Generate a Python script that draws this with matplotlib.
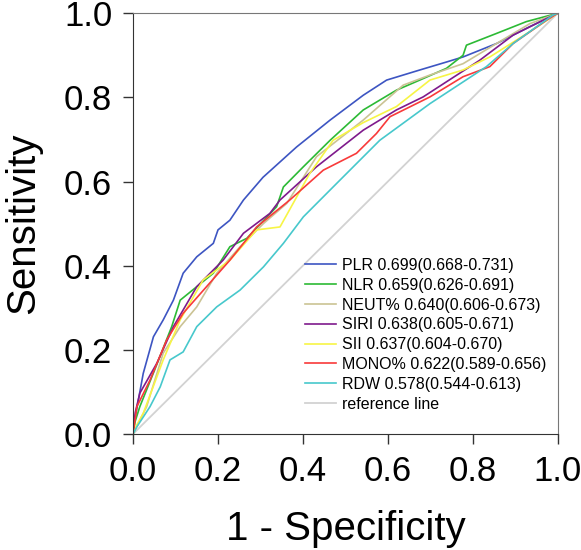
import matplotlib
matplotlib.use("Agg")
import matplotlib.pyplot as plt

plt.rcParams['font.family'] = ['Liberation Sans', 'DejaVu Sans']

# ROC curve points (1 - specificity, sensitivity)
plr_x = [0, 0.001, 0.024, 0.048, 0.071, 0.095, 0.118, 0.15, 0.189, 0.2, 0.228, 0.26, 0.306,
         0.385, 0.464, 0.542, 0.597, 0.675, 0.738, 0.777, 0.856, 0.934, 1]
plr_y = [0, 0.017, 0.144, 0.231, 0.271, 0.318, 0.382, 0.421, 0.453, 0.485, 0.508, 0.556, 0.61,
         0.682, 0.746, 0.805, 0.841, 0.865, 0.884, 0.896, 0.928, 0.968, 1]

nlr_x = [0, 0.005, 0.016, 0.05, 0.091, 0.111, 0.15, 0.189, 0.228, 0.268, 0.338, 0.354, 0.401,
         0.464, 0.542, 0.62, 0.675, 0.738, 0.777, 0.785, 0.856, 0.926, 1]
nlr_y = [0, 0.03, 0.065, 0.15, 0.255, 0.318, 0.35, 0.382, 0.445, 0.465, 0.54, 0.587, 0.635,
         0.698, 0.77, 0.817, 0.841, 0.869, 0.9, 0.924, 0.952, 0.98, 1]

neut_x = [0, 0.01, 0.032, 0.071, 0.111, 0.15, 0.197, 0.252, 0.307, 0.362, 0.432, 0.542,
          0.636, 0.699, 0.777, 0.856, 0.934, 1]
neut_y = [0, 0.02, 0.065, 0.192, 0.255, 0.302, 0.382, 0.445, 0.5, 0.548, 0.659, 0.746,
          0.829, 0.853, 0.88, 0.928, 0.975, 1]

siri_x = [0, 0.005, 0.016, 0.056, 0.095, 0.15, 0.212, 0.26, 0.322, 0.346, 0.432, 0.542,
          0.62, 0.683, 0.738, 0.816, 0.895, 0.965, 1]
siri_y = [0, 0.05, 0.097, 0.168, 0.255, 0.35, 0.413, 0.477, 0.524, 0.556, 0.635, 0.722,
          0.77, 0.801, 0.837, 0.888, 0.948, 0.983, 1]

sii_x = [0, 0.008, 0.024, 0.071, 0.111, 0.165, 0.228, 0.291, 0.346, 0.416, 0.471, 0.542,
         0.62, 0.699, 0.777, 0.84, 0.934, 1]
sii_y = [0, 0.02, 0.049, 0.176, 0.271, 0.366, 0.413, 0.485, 0.492, 0.619, 0.698, 0.74,
         0.778, 0.841, 0.865, 0.896, 0.956, 1]

mono_x = [0, 0.009, 0.04, 0.079, 0.118, 0.173, 0.228, 0.291, 0.369, 0.448, 0.526, 0.573,
          0.605, 0.699, 0.777, 0.84, 0.895, 0.973, 1]
mono_y = [0, 0.065, 0.128, 0.223, 0.287, 0.35, 0.413, 0.492, 0.556, 0.627, 0.667, 0.714,
          0.754, 0.801, 0.849, 0.873, 0.928, 0.983, 1]

rdw_x = [0, 0.009, 0.04, 0.064, 0.087, 0.118, 0.15, 0.197, 0.252, 0.307, 0.354, 0.401,
         0.479, 0.581, 0.699, 0.832, 0.895, 0.988, 1]
rdw_y = [0, 0.017, 0.065, 0.112, 0.176, 0.195, 0.255, 0.302, 0.342, 0.397, 0.453, 0.516,
         0.595, 0.698, 0.785, 0.873, 0.928, 0.995, 1]

labels = ['PLR 0.699(0.668-0.731)', 'NLR 0.659(0.626-0.691)', 'NEUT% 0.640(0.606-0.673)',
          'SIRI 0.638(0.605-0.671)', 'SII 0.637(0.604-0.670)', 'MONO% 0.622(0.589-0.656)',
          'RDW 0.578(0.544-0.613)']
colors = ['#3d55c2', '#2cba35', '#cbc394', '#7f1a8c', '#f7f545', '#f83a3a', '#47c8cc']

fig = plt.figure(figsize=(5.81, 5.5), dpi=100)
ax = fig.add_axes([0.229, 0.211, 0.731, 0.765])

curves = [(plr_x, plr_y), (nlr_x, nlr_y), (neut_x, neut_y), (siri_x, siri_y),
          (sii_x, sii_y), (mono_x, mono_y), (rdw_x, rdw_y)]
for (xs, ys), lab, c in zip(curves, labels, colors):
    ax.plot(xs, ys, color=c, lw=1.2, label=lab)
ax.plot([0, 1], [0, 1], color='#d2d2d2', lw=1.3, label='reference line', zorder=0)

ax.set_xlim(0, 1)
ax.set_ylim(0, 1)
ticks = [0.0, 0.2, 0.4, 0.6, 0.8, 1.0]
ax.set_xticks(ticks)
ax.set_yticks(ticks)
ax.set_xticklabels(['%.1f' % t for t in ticks])
ax.set_yticklabels(['%.1f' % t for t in ticks])
ax.tick_params(direction='out', length=7, width=1, labelsize=25, color='#333333', pad=8)
for s in ['top', 'right']:
    ax.spines[s].set_color('#777777')
for s in ['left', 'bottom']:
    ax.spines[s].set_color('#333333')

ax.set_xlabel('1 - Specificity', fontsize=29, labelpad=16)
ax.set_ylabel('Sensitivity', fontsize=29, labelpad=16)

ax.legend(loc='upper left', bbox_to_anchor=(0.385, 0.437), frameon=False, fontsize=11.5,
          handlelength=1.95, handletextpad=0.4, labelspacing=0.3, borderpad=0)

fig.savefig('out.png', dpi=100)
